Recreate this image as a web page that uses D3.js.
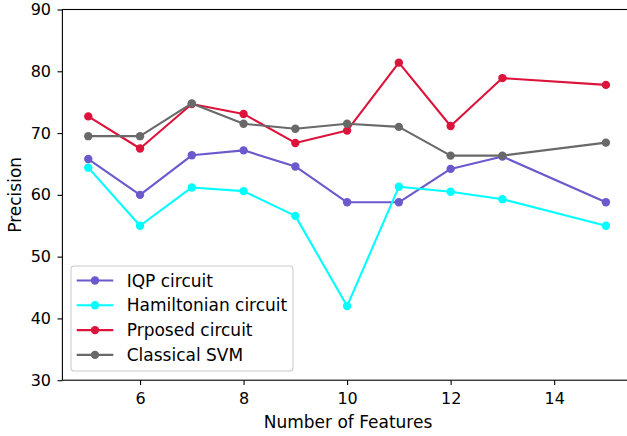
<!DOCTYPE html>
<html>
<head>
<meta charset="utf-8">
<script src="https://cdn.jsdelivr.net/npm/d3@7.9.0/dist/d3.min.js"></script>
<style>
  body { margin: 0; background: #fff; }
  svg { display: block; font-family: "DejaVu Sans", sans-serif; }
</style>
</head>
<body>
<svg id="chart" width="627" height="436"></svg>
<script>
const features = [5, 6, 7, 8, 9, 10, 11, 12, 13, 15];
const iqp = [65.8, 60.0, 66.4, 67.2, 64.6, 58.8, 58.8, 64.2, 66.2, 58.8];
const hamiltonian = [64.4, 55.0, 61.2, 60.6, 56.6, 42.0, 61.3, 60.5, 59.3, 55.0];
const proposed = [72.7, 67.5, 74.7, 73.1, 68.4, 70.4, 81.4, 71.15, 78.9, 77.8];
const classical = [69.5, 69.5, 74.8, 71.5, 70.7, 71.5, 71.0, 66.35, 66.35, 68.45];
const seriesNames = ["IQP circuit", "Hamiltonian circuit", "Prposed circuit", "Classical SVM"];
const seriesColors = ["#6a5acd", "#00ffff", "#dc143c", "#696969"];
const xTicks = [6, 8, 10, 12, 14];
const yTicks = [30, 40, 50, 60, 70, 80, 90];

const allSeries = [iqp, hamiltonian, proposed, classical];

const svg = d3.select("#chart");
const margin = { left: 62.4, top: 9.5, right: 631.8, bottom: 380.2 };

const x = d3.scaleLinear().domain([4.5, 15.5]).range([margin.left, margin.right]);
const y = d3.scaleLinear().domain([30, 90]).range([margin.bottom, margin.top]);

// Axes
const xAxis = svg.append("g")
    .attr("transform", `translate(0,${margin.bottom})`)
    .call(d3.axisBottom(x).tickValues(xTicks).tickSize(4.9).tickPadding(8));
const yAxis = svg.append("g")
    .attr("transform", `translate(${margin.left},0)`)
    .call(d3.axisLeft(y).tickValues(yTicks).tickSize(4.9).tickPadding(6.5));

[xAxis, yAxis].forEach(a => {
    a.selectAll("text").attr("font-size", 16).attr("fill", "#000")
        .attr("font-family", "DejaVu Sans, sans-serif");
    a.selectAll("line").attr("stroke", "#000").attr("stroke-width", 1.1);
    a.select(".domain").remove();
});

// Spines
svg.append("rect")
    .attr("x", margin.left)
    .attr("y", margin.top)
    .attr("width", margin.right - margin.left)
    .attr("height", margin.bottom - margin.top)
    .attr("fill", "none")
    .attr("stroke", "#000")
    .attr("stroke-width", 1.1);

// Lines and markers
const line = d3.line()
    .x((d, i) => x(features[i]))
    .y(d => y(d));

allSeries.forEach((vals, k) => {
    const g = svg.append("g");
    g.append("path")
        .attr("d", line(vals))
        .attr("fill", "none")
        .attr("stroke", seriesColors[k])
        .attr("stroke-width", 2.1)
        .attr("stroke-linejoin", "round");
    g.selectAll("circle")
        .data(vals)
        .join("circle")
        .attr("cx", (d, i) => x(features[i]))
        .attr("cy", d => y(d))
        .attr("r", 4.2)
        .attr("fill", seriesColors[k]);
});

// Axis labels
svg.append("text")
    .attr("x", 348)
    .attr("y", 428)
    .attr("text-anchor", "middle")
    .attr("font-size", 17)
    .text("Number of Features");

svg.append("text")
    .attr("transform", `translate(21,${(margin.top + margin.bottom) / 2}) rotate(-90)`)
    .attr("text-anchor", "middle")
    .attr("font-size", 17)
    .text("Precision");

// Legend
const legend = svg.append("g").attr("transform", "translate(71,266)");
legend.append("rect")
    .attr("width", 222)
    .attr("height", 105)
    .attr("rx", 3)
    .attr("fill", "#fff")
    .attr("fill-opacity", 0.8)
    .attr("stroke", "#cccccc")
    .attr("stroke-width", 1.1);

seriesNames.forEach((name, k) => {
    const cy = 14.5 + k * 24.8;
    legend.append("line")
        .attr("x1", 5.7).attr("x2", 42.3)
        .attr("y1", cy).attr("y2", cy)
        .attr("stroke", seriesColors[k])
        .attr("stroke-width", 2.1);
    legend.append("circle")
        .attr("cx", 24).attr("cy", cy).attr("r", 4.2)
        .attr("fill", seriesColors[k]);
    legend.append("text")
        .attr("x", 55.7)
        .attr("y", cy + 6)
        .attr("font-size", 17)
        .text(name);
});
</script>
</body>
</html>
